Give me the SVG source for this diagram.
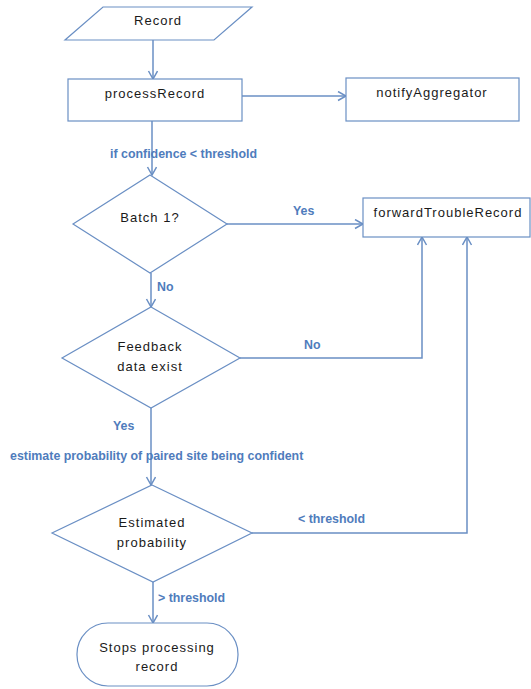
<svg xmlns="http://www.w3.org/2000/svg" width="531" height="689" viewBox="0 0 531 689">
<style>
.shape{fill:#ffffff;stroke:#6a8fc4;stroke-width:1.2}
.t{font-family:"Liberation Sans",Arial,sans-serif;font-size:13px;letter-spacing:1px;fill:#1a1a1a;text-anchor:middle}
.lbl{font-family:"Liberation Sans",Arial,sans-serif;font-size:12.4px;font-weight:bold;fill:#4f7cbc}
.c{fill:none;stroke:#6a8fc4;stroke-width:1.5}
</style>
<defs>
<marker id="arr" markerWidth="12" markerHeight="12" refX="9" refY="5" orient="auto" markerUnits="userSpaceOnUse">
<path d="M1,0.5 L9,5 L1,9.5" fill="none" stroke="#6a8fc4" stroke-width="1.5"/>
</marker>
</defs>
<rect width="531" height="689" fill="#ffffff"/>
<g id="connectors">
<line class="c" x1="153" y1="40" x2="153" y2="79" marker-end="url(#arr)"/>
<line class="c" x1="242" y1="96" x2="346" y2="96" marker-end="url(#arr)"/>
<line class="c" x1="152" y1="121" x2="152" y2="175" marker-end="url(#arr)"/>
<line class="c" x1="227" y1="224" x2="363" y2="224" marker-end="url(#arr)"/>
<line class="c" x1="151" y1="273" x2="151" y2="307" marker-end="url(#arr)"/>
<polyline class="c" points="240,358 422,358 422,237" marker-end="url(#arr)"/>
<line class="c" x1="151" y1="408" x2="151" y2="485" marker-end="url(#arr)"/>
<polyline class="c" points="252,533 467,533 467,237" marker-end="url(#arr)"/>
<line class="c" x1="153" y1="582" x2="153" y2="623" marker-end="url(#arr)"/>
<text class="lbl" x="110" y="158">if confidence &lt; threshold</text>
<text class="lbl" x="293" y="215">Yes</text>
<text class="lbl" x="157" y="291">No</text>
<text class="lbl" x="304" y="349">No</text>
<text class="lbl" x="113" y="430">Yes</text>
<text class="lbl" x="10" y="460">estimate probability of paired site being confident</text>
<text class="lbl" x="298" y="523">&lt; threshold</text>
<text class="lbl" x="158" y="602">&gt; threshold</text>
</g>
<g id="record">
<polygon class="shape" points="103,7 252,7 214,40 65,40"/>
<text class="t" x="158" y="25">Record</text>
</g>
<g id="processRecord">
<rect class="shape" x="68" y="79" width="174" height="42"/>
<text class="t" x="155" y="98">processRecord</text>
</g>
<g id="notifyAggregator">
<rect class="shape" x="346" y="78" width="173" height="43"/>
<text class="t" x="432" y="97">notifyAggregator</text>
</g>
<g id="forwardTroubleRecord">
<rect class="shape" x="363" y="198" width="167" height="39"/>
<text class="t" x="448" y="217">forwardTroubleRecord</text>
</g>
<g id="batch1">
<polygon class="shape" points="150,175 227,224 150,273 73,224"/>
<text class="t" x="150" y="222">Batch 1?</text>
</g>
<g id="feedback">
<polygon class="shape" points="151,307 240,358 151,408 62,358"/>
<text class="t" x="150" y="351">Feedback</text>
<text class="t" x="150" y="371">data exist</text>
</g>
<g id="estimated">
<polygon class="shape" points="152,485 252,533 153,582 52,533"/>
<text class="t" x="152" y="527">Estimated</text>
<text class="t" x="152" y="547">probability</text>
</g>
<g id="stops">
<rect class="shape" x="77" y="623" width="161" height="63" rx="31" ry="31"/>
<text class="t" x="157" y="652">Stops processing</text>
<text class="t" x="157" y="671">record</text>
</g>
</svg>
